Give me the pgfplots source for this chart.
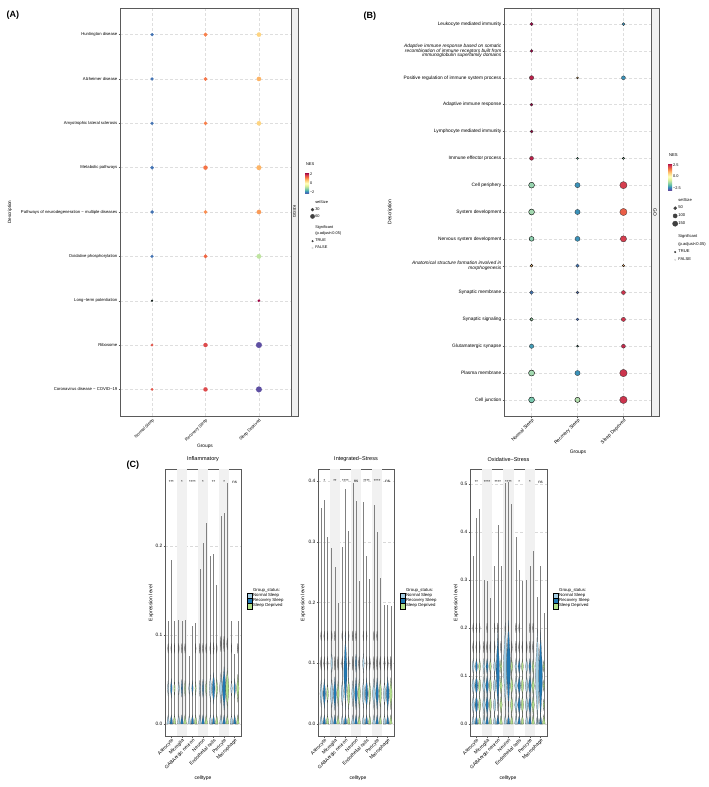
\documentclass[border=0pt]{standalone}
\usepackage{pgfplots}
\pgfplotsset{compat=1.18}
\usepackage{fontspec}
\setmainfont{Liberation Sans}
\setsansfont{Liberation Sans}
\definecolor{cN}{HTML}{A6CEE3}
\definecolor{cR}{HTML}{1F78B4}
\definecolor{cS}{HTML}{B2DF8A}
\definecolor{band}{HTML}{F1F1F1}
\definecolor{frame}{HTML}{5A5A5A}
\definecolor{smear}{HTML}{5A5A5A}
\newcommand\fs[1]{\fontsize{#1}{#1}\selectfont}

\pgfdeclareplotmark{spin}{%
 \pgfpathmoveto{\pgfqpoint{0pt}{10\pgfplotmarksize}}%
 \pgfpathcurveto{\pgfqpoint{0.15\pgfplotmarksize}{6\pgfplotmarksize}}{\pgfqpoint{0.8\pgfplotmarksize}{3\pgfplotmarksize}}{\pgfqpoint{0.8\pgfplotmarksize}{0pt}}%
 \pgfpathcurveto{\pgfqpoint{0.8\pgfplotmarksize}{-3\pgfplotmarksize}}{\pgfqpoint{0.15\pgfplotmarksize}{-6\pgfplotmarksize}}{\pgfqpoint{0pt}{-10\pgfplotmarksize}}%
 \pgfpathcurveto{\pgfqpoint{-0.15\pgfplotmarksize}{-6\pgfplotmarksize}}{\pgfqpoint{-0.8\pgfplotmarksize}{-3\pgfplotmarksize}}{\pgfqpoint{-0.8\pgfplotmarksize}{0pt}}%
 \pgfpathcurveto{\pgfqpoint{-0.8\pgfplotmarksize}{3\pgfplotmarksize}}{\pgfqpoint{-0.15\pgfplotmarksize}{6\pgfplotmarksize}}{\pgfqpoint{0pt}{10\pgfplotmarksize}}%
 \pgfpathclose\pgfusepathqfillstroke}
\pgfdeclareplotmark{spinS}{%
 \pgfpathmoveto{\pgfqpoint{0pt}{6\pgfplotmarksize}}%
 \pgfpathcurveto{\pgfqpoint{0.15\pgfplotmarksize}{3.6\pgfplotmarksize}}{\pgfqpoint{0.8\pgfplotmarksize}{1.8\pgfplotmarksize}}{\pgfqpoint{0.8\pgfplotmarksize}{0pt}}%
 \pgfpathcurveto{\pgfqpoint{0.8\pgfplotmarksize}{-1.8\pgfplotmarksize}}{\pgfqpoint{0.15\pgfplotmarksize}{-3.6\pgfplotmarksize}}{\pgfqpoint{0pt}{-6\pgfplotmarksize}}%
 \pgfpathcurveto{\pgfqpoint{-0.15\pgfplotmarksize}{-3.6\pgfplotmarksize}}{\pgfqpoint{-0.8\pgfplotmarksize}{-1.8\pgfplotmarksize}}{\pgfqpoint{-0.8\pgfplotmarksize}{0pt}}%
 \pgfpathcurveto{\pgfqpoint{-0.8\pgfplotmarksize}{1.8\pgfplotmarksize}}{\pgfqpoint{-0.15\pgfplotmarksize}{3.6\pgfplotmarksize}}{\pgfqpoint{0pt}{6\pgfplotmarksize}}%
 \pgfpathclose\pgfusepathqfillstroke}
\pgfdeclareplotmark{tall}{%
 \pgfpathmoveto{\pgfqpoint{0pt}{20\pgfplotmarksize}}%
 \pgfpathcurveto{\pgfqpoint{0.15\pgfplotmarksize}{12\pgfplotmarksize}}{\pgfqpoint{0.8\pgfplotmarksize}{6\pgfplotmarksize}}{\pgfqpoint{0.8\pgfplotmarksize}{0pt}}%
 \pgfpathcurveto{\pgfqpoint{0.8\pgfplotmarksize}{-6\pgfplotmarksize}}{\pgfqpoint{0.15\pgfplotmarksize}{-12\pgfplotmarksize}}{\pgfqpoint{0pt}{-20\pgfplotmarksize}}%
 \pgfpathcurveto{\pgfqpoint{-0.15\pgfplotmarksize}{-12\pgfplotmarksize}}{\pgfqpoint{-0.8\pgfplotmarksize}{-6\pgfplotmarksize}}{\pgfqpoint{-0.8\pgfplotmarksize}{0pt}}%
 \pgfpathcurveto{\pgfqpoint{-0.8\pgfplotmarksize}{6\pgfplotmarksize}}{\pgfqpoint{-0.15\pgfplotmarksize}{12\pgfplotmarksize}}{\pgfqpoint{0pt}{20\pgfplotmarksize}}%
 \pgfpathclose\pgfusepathqfillstroke}
\pgfdeclareplotmark{base}{%
 \pgfpathmoveto{\pgfqpoint{-0.9\pgfplotmarksize}{0pt}}%
 \pgfpathcurveto{\pgfqpoint{-0.9\pgfplotmarksize}{2\pgfplotmarksize}}{\pgfqpoint{-0.15\pgfplotmarksize}{4\pgfplotmarksize}}{\pgfqpoint{0pt}{6\pgfplotmarksize}}%
 \pgfpathcurveto{\pgfqpoint{0.15\pgfplotmarksize}{4\pgfplotmarksize}}{\pgfqpoint{0.9\pgfplotmarksize}{2\pgfplotmarksize}}{\pgfqpoint{0.9\pgfplotmarksize}{0pt}}%
 \pgfpathclose\pgfusepathqfillstroke}

\pgfplotsset{
 /pgf/number format/assume math mode=true,
 colormap={spectral}{rgb255=(94,79,162) rgb255=(50,136,189) rgb255=(102,194,165) rgb255=(171,221,164) rgb255=(230,245,152) rgb255=(255,255,191) rgb255=(254,224,139) rgb255=(253,174,97) rgb255=(244,109,67) rgb255=(213,62,79) rgb255=(158,1,66)},
 dotax/.style={scale only axis, xmin=0.4, xmax=3.6, xtick={1,2,3},
   xticklabels={Normal Sleep,Recovery Sleep,Sleep Deprived},
   grid=major, major grid style={densely dashed, black!13, line width=0.35pt},
   axis line style={frame, line width=0.8pt}, tick align=outside, major tick length=1.5pt,
   xtick pos=bottom, ytick pos=left,
   every tick/.style={frame, line width=0.35pt},
   xticklabel style={rotate=45, anchor=north east, inner sep=0.5pt},
   yticklabel style={inner sep=1pt}, colormap name=spectral,
   legend style={draw=none, fill=none, inner sep=0pt, nodes={inner sep=0.6pt}},
   legend cell align=left},
 dotbase/.style={scatter, only marks, mark=*, forget plot, point meta=\thisrow{nes},
   visualization depends on={\thisrow{r}\as\rr}},
 szapp/.style={scatter/@pre marker code/.append style={/tikz/mark size=\rr}},
 adots/.style={dotbase, scatter/use mapped color={draw=mapped color, fill=mapped color}, szapp, line width=0.1pt},
 sigdots/.style={dotbase, scatter/use mapped color={draw=black!80, fill=mapped color}, szapp, line width=0.3pt},
 nsdots/.style={dotbase, scatter/use mapped color={draw=none, fill=mapped color}, szapp, fill opacity=0.85},
 bul/.style 2 args={only marks, forget plot, scatter, mark=#1, point meta=\thisrow{r},
   visualization depends on={\thisrow{r}\as\rr},
   scatter/use mapped color={draw=black!70, fill=#2}, szapp, line width=0.2pt},
 spk/.style={ycomb, forget plot, black!50, line width=0.55pt, mark=none},
 vax/.style={scale only axis, height=267pt, xmin=0.4, xmax=7.6, xtick={1,...,7},
   xticklabels={Astrocyte,Microglia,GABAergic neuron,Neuron,Endothelial cells,Pericyte,Macrophage},
   xticklabel style={rotate=45, anchor=north east, font=\fs{4.8}, inner sep=0.6pt},
   yticklabel style={font=\fs{4.8}, inner sep=1pt, /pgf/number format/fixed, /pgf/number format/fixed zerofill, /pgf/number format/precision=1},
   ymajorgrids, major grid style={densely dashed, black!15, line width=0.35pt},
   axis line style={frame, line width=0.8pt}, tick align=outside, major tick length=1.5pt,
   xtick pos=bottom, ytick pos=left,
   every tick/.style={frame, line width=0.35pt},
   title style={font=\fs{5.5}, inner sep=1pt},
   legend style={at={(1.08,0.555)}, anchor=north west, draw=none, fill=none, font=\fs{4.3}, row sep=-0.6pt, inner sep=0pt, nodes={inner sep=0.5pt}},
   legend cell align=left},
}

\begin{document}
\begin{tikzpicture}[font=\fs{4.5}]
%================ PANEL A ================
\begin{axis}[dotax, at={(120pt,-8pt)}, anchor=north west, width=171pt, height=408pt,
  ymin=0.4, ymax=9.6, ytick={1,...,9},
  yticklabels={Coronavirus disease − COVID−19,Ribosome,Long−term potentiation,Oxidative phosphorylation,Pathways of neurodegeneration − multiple diseases,Metabolic pathways,Amyotrophic lateral sclerosis,Alzheimer disease,Huntington disease},
  yticklabel style={font=\fs{4.2}}, xticklabel style={font=\fs{4.2}},
  point meta min=-2.4, point meta max=2.4,
  colorbar, colorbar style={at={(1.082,0.596)}, anchor=north west, scale only axis, width=4pt, height=21pt,
    ytick={-2,0,2}, yticklabels={−2,0,2}, yticklabel style={font=\fs{3.8}, inner sep=0.8pt}, major tick length=0pt,
    axis line style={draw=none}, title={NES}, title style={font=\fs{4}, at={(0,1)}, anchor=south west, inner sep=0.8pt}},
  legend style={at={(1.075,0.53)}, anchor=north west, font=\fs{3.9}, row sep=1.4pt}]
\addplot[adots] table[row sep=\\]{x y nes r\\
1 9 -2.1 1.6\\ 2 9 1.3 1.9\\ 3 9 0.6 2.2\\
1 8 -2.1 1.6\\ 2 8 1.4 1.8\\ 3 8 0.9 2.2\\
1 7 -2.1 1.6\\ 2 7 1.3 1.8\\ 3 7 0.6 2.2\\
1 6 -2.1 1.8\\ 2 6 1.4 2.1\\ 3 6 0.9 2.4\\
1 5 -2.1 1.7\\ 2 5 1.2 1.9\\ 3 5 1.1 2.2\\
1 4 -2.1 1.5\\ 2 4 1.5 1.9\\ 3 4 -0.8 2.3\\
3 3 2.4 1.3\\
1 2 1.7 1.3\\ 2 2 1.8 2.1\\ 3 2 -2.4 2.9\\
1 1 1.7 1.3\\ 2 1 1.8 2.1\\ 3 1 -2.4 2.9\\
};
\addplot[nsdots] table[row sep=\\]{x y nes r\\ 1 3 -1.4 0.9\\};
\addlegendimage{empty legend}\addlegendentry{setSize}
\addlegendimage{only marks, mark=*, mark size=1.5pt, black!75}\addlegendentry{30}
\addlegendimage{only marks, mark=*, mark size=2.1pt, black!75}\addlegendentry{60}
\addlegendimage{empty legend}\addlegendentry{}
\addlegendimage{empty legend}\addlegendentry{Significant}
\addlegendimage{empty legend}\addlegendentry{(p.adjust<0.05)}
\addlegendimage{only marks, mark=*, mark size=0.8pt, black!75}\addlegendentry{TRUE}
\addlegendimage{only marks, mark=*, mark size=0.8pt, black!15}\addlegendentry{FALSE}
\end{axis}
\draw[fill=black!6, draw=frame, line width=0.7pt] (291pt,-8pt) rectangle (298pt,-416pt);
\node[rotate=-90, font=\fs{4.2}] at (294.5pt,-212pt) {KEGG};
\node[rotate=90, font=\fs{4.6}] at (10pt,-212pt) {Description};
\node[font=\fs{4.8}] at (205pt,-446pt) {Groups};
\node[anchor=west, font=\bfseries\fs{9}] at (3pt,-15pt) {(A)};

%================ PANEL B ================
\begin{axis}[dotax, at={(504pt,-8pt)}, anchor=north west, width=147pt, height=408pt,
  ymin=0.4, ymax=15.6, ytick={1,...,15},
  yticklabels={Cell junction,Plasma membrane,Glutamatergic synapse,Synaptic signaling,Synaptic membrane,{\textit{Anatomical structure formation involved in}\\\textit{morphogenesis}},Nervous system development,System development,Cell periphery,Immune effector process,Lymphocyte mediated immunity,Adaptive immune response,Positive regulation of immune system process,{\textit{Adaptive immune response based on somatic}\\\textit{recombination of immune receptors built from}\\\textit{immunoglobulin superfamily domains}},Leukocyte mediated immunity},
  yticklabel style={font=\fs{4.8}, align=right}, xticklabel style={font=\fs{4.8}},
  point meta min=-3, point meta max=3,
  colorbar, colorbar style={at={(1.116,0.62)}, anchor=north west, scale only axis, width=4pt, height=27pt,
    ytick={-2.5,0,2.5}, yticklabels={−2.5,0.0,2.5}, yticklabel style={font=\fs{3.9}, inner sep=0.8pt}, major tick length=0pt,
    axis line style={draw=none}, title={NES}, title style={font=\fs{4.2}, at={(0,1)}, anchor=south west, inner sep=0.8pt}},
  legend style={at={(1.105,0.536)}, anchor=north west, font=\fs{4.1}, row sep=2.2pt}]
\addplot[sigdots] table[row sep=\\]{x y nes r\\
1 15 3.0 1.7\\ 3 15 -2.3 1.5\\
1 14 3.0 1.5\\
1 13 2.7 2.2\\ 3 13 -2.3 2.0\\
1 12 3.0 1.5\\
1 11 3.0 1.5\\
1 10 2.7 2.0\\
2 9 -2.3 2.6\\ 3 9 2.4 3.6\\
2 8 -2.3 2.6\\ 3 8 2.0 3.6\\
2 7 -2.3 2.5\\ 3 7 2.4 3.1\\
2 6 -2.6 1.7\\
1 5 -2.6 1.9\\ 2 5 -2.7 1.4\\ 3 5 2.5 2.0\\
2 4 -2.7 1.4\\ 3 4 2.5 2.1\\
1 3 -2.2 2.2\\ 3 3 2.6 2.0\\
2 2 -2.3 2.6\\ 3 2 2.5 3.7\\
3 1 2.5 3.7\\
};
\addplot[nsdots] table[row sep=\\]{x y nes r\\
2 13 1.0 1.0\\ 2 10 -1.8 1.0\\ 3 10 -1.5 1.1\\
1 9 -1.5 2.9\\ 1 8 -1.4 2.9\\ 1 7 -1.6 2.4\\
1 6 1.0 1.4\\ 3 6 1.2 1.2\\ 1 4 -1.4 1.7\\
2 3 -1.9 1.0\\ 1 2 -1.4 3.0\\ 1 1 -1.8 2.9\\ 2 1 -1.2 2.6\\
};
\addlegendimage{empty legend}\addlegendentry{setSize}
\addlegendimage{only marks, mark=*, mark size=1.5pt, black!75}\addlegendentry{50}
\addlegendimage{only marks, mark=*, mark size=2.1pt, black!75}\addlegendentry{100}
\addlegendimage{only marks, mark=*, mark size=2.6pt, black!75}\addlegendentry{150}
\addlegendimage{empty legend}\addlegendentry{}
\addlegendimage{empty legend}\addlegendentry{Significant}
\addlegendimage{empty legend}\addlegendentry{(p.adjust<0.05)}
\addlegendimage{only marks, mark=*, mark size=0.8pt, black!75}\addlegendentry{TRUE}
\addlegendimage{only marks, mark=*, mark size=0.8pt, black!15}\addlegendentry{FALSE}
\end{axis}
\draw[fill=black!6, draw=frame, line width=0.7pt] (651pt,-8pt) rectangle (659pt,-416pt);
\node[rotate=-90, font=\fs{4.8}] at (655pt,-212pt) {GO};
\node[rotate=90, font=\fs{5}] at (390pt,-212pt) {Description};
\node[font=\fs{5}] at (578pt,-452pt) {Groups};
\node[anchor=west, font=\bfseries\fs{9}] at (360pt,-16pt) {(B)};

%================ PANEL C1 Inflammatory ================
\begin{axis}[vax, at={(165pt,-469pt)}, anchor=north west, width=76pt,
  ymin=-0.0135, ymax=0.2865, ytick={0,0.1,0.2}, title={Inflammatory}]
\foreach \b in {2,4,6}{\edef\tmp{\noexpand\fill[band] ({axis cs:\b-0.5,0}|-{rel axis cs:0,0}) rectangle ({axis cs:\b+0.5,0}|-{rel axis cs:0,1});}\tmp}
\addplot[spk] coordinates {(0.7,0.116) (1.7,0.117) (2.7,0.076) (3.7,0.174) (4.7,0.189) (5.7,0.234) (6.7,0.116)};
\addplot[spk] coordinates {(1,0.184) (2,0.116) (3,0.110) (4,0.203) (5,0.191) (6,0.237) (7,0.079)};
\addplot[spk] coordinates {(1.3,0.116) (2.3,0.117) (3.3,0.114) (4.3,0.226) (5.3,0.156) (6.3,0.271) (7.3,0.116)};
\addplot[bul={spin}{smear}] table[row sep=\\]{x y r\\ 0.7 0.085 0.5\\ 1 0.085 0.5\\ 1.3 0.085 0.5\\ 1.7 0.085 0.5\\ 2 0.085 0.5\\ 2.3 0.085 0.5\\ 3.3 0.085 0.5\\ 3.7 0.085 0.5\\ 4 0.085 0.5\\ 4.3 0.085 0.5\\ 4.7 0.085 0.6\\ 5 0.085 0.6\\ 5.3 0.085 0.5\\ 5.7 0.09 0.8\\ 6 0.09 0.8\\ 6.3 0.09 0.6\\ 6.7 0.085 0.5\\ 7.3 0.085 0.5\\};
\addplot[bul={base}{cN}] table[row sep=\\]{x y r\\ 0.7 0 1.5\\ 1.7 0 1.5\\ 2.7 0 1.5\\ 3.7 0 1.5\\ 4.7 0 1.5\\ 5.7 0 1.5\\ 6.7 0 1.5\\};
\addplot[bul={base}{cR}] table[row sep=\\]{x y r\\ 1 0 1.5\\ 2 0 1.5\\ 3 0 1.5\\ 4 0 1.5\\ 5 0 1.5\\ 6 0 1.5\\ 7 0 1.5\\};
\addplot[bul={base}{cS}] table[row sep=\\]{x y r\\ 1.3 0 1.5\\ 2.3 0 1.5\\ 3.3 0 1.5\\ 4.3 0 1.5\\ 5.3 0 1.5\\ 6.3 0 1.5\\ 7.3 0 1.5\\};
\addplot[bul={spin}{cN}] table[row sep=\\]{x y r\\ 0.7 0.04 0.8\\ 1.7 0.04 0.8\\ 2.7 0.04 0.7\\ 3.7 0.04 0.8\\ 4.7 0.04 1.4\\ 5.7 0.04 1.6\\ 6.7 0.04 0.9\\};
\addplot[bul={spin}{cR}] table[row sep=\\]{x y r\\ 1 0.04 1.0\\ 2 0.04 0.9\\ 3 0.04 0.8\\ 4 0.04 0.9\\ 5 0.04 1.6\\ 6 0.04 2.2\\ 7 0.04 1.0\\};
\addplot[bul={spin}{cS}] table[row sep=\\]{x y r\\ 1.3 0.04 0.8\\ 2.3 0.04 0.8\\ 3.3 0.04 0.7\\ 4.3 0.04 0.8\\ 5.3 0.04 1.1\\ 6.3 0.04 2.0\\ 7.3 0.04 1.4\\};
\foreach \i/\s in {1/***,2/*,3/****,4/*,5/**,6/*,7/ns}{\edef\tmp{\noexpand\node[font=\noexpand\fs{4.2}] at (axis cs:\i,0.272) {\s};}\tmp}
\addlegendimage{empty legend}\addlegendentry{Group\_status:}
\addlegendimage{legend image code/.code={\draw[fill=cN, draw=black, line width=0.3pt] (0pt,-2.7pt) rectangle (5pt,2.7pt);}}\addlegendentry{Normal Sleep}
\addlegendimage{legend image code/.code={\draw[fill=cR, draw=black, line width=0.3pt] (0pt,-2.7pt) rectangle (5pt,2.7pt);}}\addlegendentry{Recovery Sleep}
\addlegendimage{legend image code/.code={\draw[fill=cS, draw=black, line width=0.3pt] (0pt,-2.7pt) rectangle (5pt,2.7pt);}}\addlegendentry{Sleep Deprived}
\end{axis}
\node[rotate=90, font=\fs{5}] at (151pt,-603pt) {Expression level};
\node[font=\fs{5}] at (203pt,-778pt) {celltype};
\node[anchor=west, font=\bfseries\fs{9}] at (123pt,-465pt) {(C)};

%================ PANEL C2 Integrated-Stress ================
\begin{axis}[vax, at={(318pt,-469pt)}, anchor=north west, width=76pt,
  ymin=-0.0198, ymax=0.42, ytick={0,0.1,0.2,0.3,0.4}, title={Integrated−Stress}]
\foreach \b in {2,4,6}{\edef\tmp{\noexpand\fill[band] ({axis cs:\b-0.5,0}|-{rel axis cs:0,0}) rectangle ({axis cs:\b+0.5,0}|-{rel axis cs:0,1});}\tmp}
\addplot[spk] coordinates {(0.7,0.355) (1.7,0.290) (2.7,0.291) (3.7,0.397) (4.7,0.365) (5.7,0.361) (6.7,0.196)};
\addplot[spk] coordinates {(1,0.369) (2,0.259) (3,0.387) (4,0.368) (5,0.276) (6,0.316) (7,0.196)};
\addplot[spk] coordinates {(1.3,0.308) (2.3,0.199) (3.3,0.318) (4.3,0.236) (5.3,0.239) (6.3,0.240) (7.3,0.194)};
\addplot[bul={spin}{smear}] table[row sep=\\]{x y r\\ 0.7 0.1 0.7\\ 1 0.1 0.7\\ 1.3 0.1 0.7\\ 2 0.1 0.7\\ 2.3 0.1 0.7\\ 2.7 0.1 0.7\\ 3.3 0.1 0.7\\ 3.7 0.1 0.7\\ 4.3 0.1 0.7\\ 5 0.1 0.7\\ 5.3 0.1 0.7\\ 5.7 0.1 0.7\\ 6 0.1 0.7\\ 6.3 0.1 0.7\\ 6.7 0.1 0.7\\ 7 0.1 0.7\\ 7.3 0.1 0.7\\
0.7 0.145 0.5\\ 1 0.145 0.5\\ 1.3 0.145 0.5\\ 1.7 0.145 0.5\\ 2 0.145 0.5\\ 2.7 0.145 0.5\\ 3 0.145 0.5\\ 3.3 0.145 0.5\\ 3.7 0.145 0.5\\ 4 0.145 0.5\\ 4.7 0.145 0.5\\ 5 0.145 0.5\\ 5.7 0.145 0.5\\ 6 0.145 0.5\\};
\addplot[bul={base}{cN}] table[row sep=\\]{x y r\\ 0.7 0 1.5\\ 1.7 0 1.5\\ 2.7 0 1.5\\ 3.7 0 1.5\\ 4.7 0 1.5\\ 5.7 0 1.5\\ 6.7 0 1.5\\};
\addplot[bul={base}{cR}] table[row sep=\\]{x y r\\ 1 0 1.5\\ 2 0 1.5\\ 3 0 1.5\\ 4 0 1.5\\ 5 0 1.5\\ 6 0 1.5\\ 7 0 1.5\\};
\addplot[bul={base}{cS}] table[row sep=\\]{x y r\\ 1.3 0 1.5\\ 2.3 0 1.5\\ 3.3 0 1.5\\ 4.3 0 1.5\\ 5.3 0 1.5\\ 6.3 0 1.5\\ 7.3 0 1.5\\};
\addplot[bul={spin}{cN}] table[row sep=\\]{x y r\\ 0.7 0.05 1.4\\ 1.7 0.05 1.6\\ 2.7 0.05 1.4\\ 3.7 0.05 1.3\\ 4.7 0.05 1.5\\ 5.7 0.05 1.6\\ 6.7 0.05 1.3\\ 1.7 0.1 1.1\\ 4.7 0.1 1.0\\};
\addplot[bul={spin}{cR}] table[row sep=\\]{x y r\\ 1 0.05 1.5\\ 2 0.05 1.7\\ 4 0.05 1.6\\ 5 0.05 1.6\\ 6 0.05 1.6\\ 7 0.05 1.7\\ 4 0.1 0.9\\};
\addplot[bul={tall}{cR}] table[row sep=\\]{x y r\\ 3 0.085 1.9\\};
\addplot[bul={spin}{cS}] table[row sep=\\]{x y r\\ 1.3 0.05 1.1\\ 2.3 0.05 1.3\\ 3.3 0.05 1.6\\ 4.3 0.05 1.5\\ 5.3 0.05 1.3\\ 6.3 0.05 1.5\\ 7.3 0.05 1.6\\};
\foreach \i/\s in {1/*,2/**,3/****,4/ns,5/****,6/****,7/ns}{\edef\tmp{\noexpand\node[font=\noexpand\fs{4.2}] at (axis cs:\i,0.4) {\s};}\tmp}
\addlegendimage{empty legend}\addlegendentry{Group\_status:}
\addlegendimage{legend image code/.code={\draw[fill=cN, draw=black, line width=0.3pt] (0pt,-2.7pt) rectangle (5pt,2.7pt);}}\addlegendentry{Normal Sleep}
\addlegendimage{legend image code/.code={\draw[fill=cR, draw=black, line width=0.3pt] (0pt,-2.7pt) rectangle (5pt,2.7pt);}}\addlegendentry{Recovery Sleep}
\addlegendimage{legend image code/.code={\draw[fill=cS, draw=black, line width=0.3pt] (0pt,-2.7pt) rectangle (5pt,2.7pt);}}\addlegendentry{Sleep Deprived}
\end{axis}
\node[rotate=90, font=\fs{5}] at (303pt,-603pt) {Expression level};
\node[font=\fs{5}] at (358pt,-778pt) {celltype};

%================ PANEL C3 Oxidative-Stress ================
\begin{axis}[vax, at={(470pt,-469pt)}, anchor=north west, width=77pt,
  ymin=-0.025, ymax=0.531, ytick={0,0.1,0.2,0.3,0.4,0.5}, title={Oxidative−Stress}]
\foreach \b in {2,4,6}{\edef\tmp{\noexpand\fill[band] ({axis cs:\b-0.5,0}|-{rel axis cs:0,0}) rectangle ({axis cs:\b+0.5,0}|-{rel axis cs:0,1});}\tmp}
\addplot[spk] coordinates {(0.7,0.350) (1.7,0.300) (2.7,0.328) (3.7,0.501) (4.7,0.389) (5.7,0.299) (6.7,0.264)};
\addplot[spk] coordinates {(1,0.428) (2,0.298) (3,0.415) (4,0.503) (5,0.321) (6,0.328) (7,0.329)};
\addplot[spk] coordinates {(1.3,0.448) (2.3,0.263) (3.3,0.329) (4.3,0.458) (5.3,0.297) (6.3,0.360) (7.3,0.231)};
\addplot[bul={spin}{smear}] table[row sep=\\]{x y r\\ 0.7 0.16 0.6\\ 1 0.16 0.6\\ 1.3 0.16 0.6\\ 1.7 0.16 0.6\\ 2 0.16 0.6\\ 2.3 0.16 0.6\\ 2.7 0.16 0.6\\ 3.3 0.16 0.6\\ 4.3 0.16 0.6\\ 4.7 0.16 0.6\\ 5 0.16 0.6\\ 5.3 0.16 0.6\\ 5.7 0.16 0.6\\ 6 0.16 0.6\\ 6.3 0.16 0.6\\
0.7 0.2 0.5\\ 1 0.2 0.5\\ 1.3 0.2 0.5\\ 2 0.2 0.5\\ 2.7 0.2 0.5\\ 3 0.2 0.5\\ 3.7 0.2 0.5\\ 4 0.2 0.5\\ 4.7 0.2 0.5\\ 5 0.2 0.5\\ 6 0.2 0.5\\ 6.3 0.2 0.5\\};
\addplot[bul={base}{cN}] table[row sep=\\]{x y r\\ 0.7 0 1.5\\ 1.7 0 1.5\\ 2.7 0 1.5\\ 3.7 0 1.5\\ 4.7 0 1.5\\ 5.7 0 1.5\\ 6.7 0 1.5\\};
\addplot[bul={base}{cR}] table[row sep=\\]{x y r\\ 1 0 1.5\\ 2 0 1.5\\ 3 0 1.5\\ 4 0 1.5\\ 5 0 1.5\\ 6 0 1.5\\ 7 0 1.5\\};
\addplot[bul={base}{cS}] table[row sep=\\]{x y r\\ 1.3 0 1.5\\ 2.3 0 1.5\\ 3.3 0 1.5\\ 4.3 0 1.5\\ 5.3 0 1.5\\ 6.3 0 1.5\\ 7.3 0 1.5\\};
\addplot[bul={tall}{cN}] table[row sep=\\]{x y r\\ 3.7 0.12 2.2\\ 6.7 0.10 2.4\\};
\addplot[bul={tall}{cR}] table[row sep=\\]{x y r\\ 3 0.11 2.0\\ 4 0.12 2.3\\ 7 0.10 2.3\\};
\addplot[bul={spinS}{cN}] table[row sep=\\]{x y r\\ 0.7 0.04 1.6\\ 0.7 0.08 1.6\\ 0.7 0.12 1.3\\ 1.7 0.04 1.6\\ 1.7 0.08 1.6\\ 1.7 0.12 1.3\\ 2.7 0.04 1.6\\ 2.7 0.08 1.6\\ 2.7 0.12 1.3\\ 4.7 0.04 1.6\\ 4.7 0.08 1.6\\ 4.7 0.12 1.3\\ 5.7 0.04 1.6\\ 5.7 0.08 1.6\\ 5.7 0.12 1.3\\};
\addplot[bul={spinS}{cR}] table[row sep=\\]{x y r\\ 1 0.04 1.7\\ 1 0.08 1.7\\ 1 0.12 1.3\\ 2 0.04 1.7\\ 2 0.08 1.7\\ 2 0.12 1.3\\ 5 0.04 1.7\\ 5 0.08 1.7\\ 5 0.12 1.3\\ 6 0.04 1.7\\ 6 0.08 1.7\\ 6 0.12 1.3\\};
\addplot[bul={spinS}{cS}] table[row sep=\\]{x y r\\ 1.3 0.04 1.5\\ 1.3 0.08 1.5\\ 1.3 0.12 1.2\\ 2.3 0.04 1.5\\ 2.3 0.08 1.5\\ 2.3 0.12 1.2\\ 3.3 0.04 1.5\\ 3.3 0.08 1.5\\ 3.3 0.12 1.2\\ 4.3 0.04 1.5\\ 4.3 0.08 1.5\\ 4.3 0.12 1.2\\ 5.3 0.04 1.5\\ 5.3 0.08 1.5\\ 5.3 0.12 1.2\\ 6.3 0.04 1.5\\ 6.3 0.08 1.5\\ 6.3 0.12 1.2\\ 7.3 0.04 0.9\\ 7.3 0.08 0.9\\ 7.3 0.12 0.9\\};
\foreach \i/\s in {1/**,2/****,3/****,4/****,5/*,6/*,7/ns}{\edef\tmp{\noexpand\node[font=\noexpand\fs{4.2}] at (axis cs:\i,0.504) {\s};}\tmp}
\addlegendimage{empty legend}\addlegendentry{Group\_status:}
\addlegendimage{legend image code/.code={\draw[fill=cN, draw=black, line width=0.3pt] (0pt,-2.7pt) rectangle (5pt,2.7pt);}}\addlegendentry{Normal Sleep}
\addlegendimage{legend image code/.code={\draw[fill=cR, draw=black, line width=0.3pt] (0pt,-2.7pt) rectangle (5pt,2.7pt);}}\addlegendentry{Recovery Sleep}
\addlegendimage{legend image code/.code={\draw[fill=cS, draw=black, line width=0.3pt] (0pt,-2.7pt) rectangle (5pt,2.7pt);}}\addlegendentry{Sleep Deprived}
\end{axis}
\node[rotate=90, font=\fs{5}] at (456pt,-603pt) {Expression level};
\node[font=\fs{5}] at (508pt,-778pt) {celltype};

\pgfresetboundingbox
\useasboundingbox (0,0) rectangle (709pt,-787pt);
\end{tikzpicture}
\end{document}
